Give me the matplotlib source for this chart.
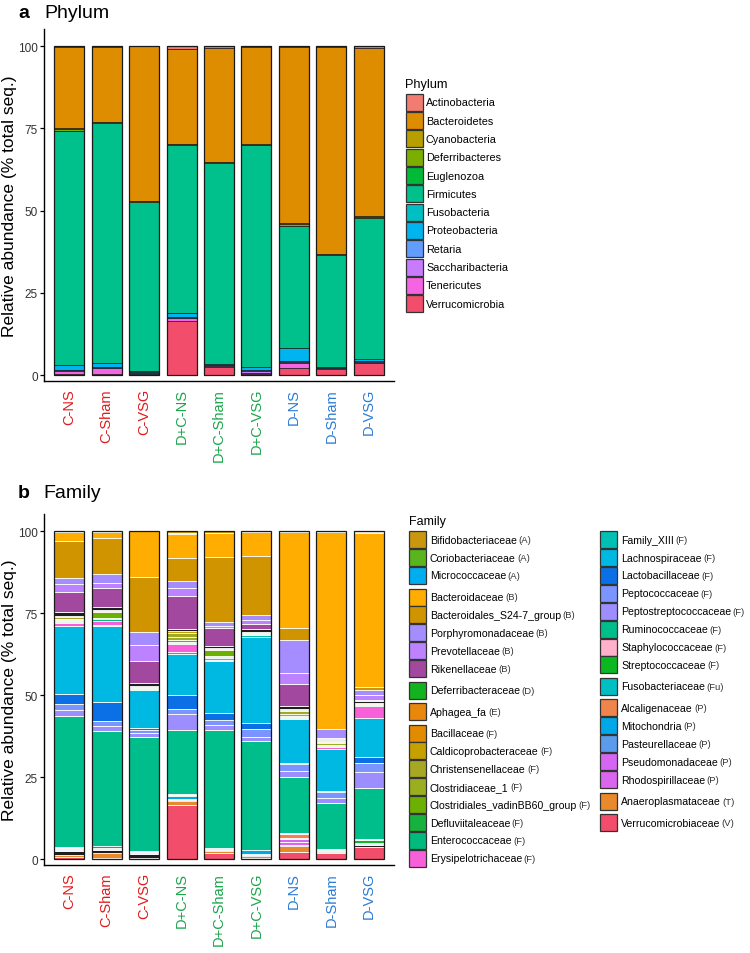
"""Stacked relative-abundance bars by phylum and family."""

import matplotlib

matplotlib.use("Agg")
import matplotlib.pyplot as plt
import numpy as np
from matplotlib.patches import Rectangle

plt.rcParams["font.family"] = ["Liberation Sans", "DejaVu Sans"]

samples = ["C-NS", "C-Sham", "C-VSG", "D+C-NS", "D+C-Sham", "D+C-VSG", "D-NS", "D-Sham", "D-VSG"]
sample_colors = ["#E31A1C"] * 3 + ["#1AA64B"] * 3 + ["#2B7BD6"] * 3

phyla = ["Actinobacteria", "Bacteroidetes", "Cyanobacteria", "Deferribacteres", "Euglenozoa",
         "Firmicutes", "Fusobacteria", "Proteobacteria", "Retaria", "Saccharibacteria",
         "Tenericutes", "Verrucomicrobia"]
phylum_colors = ["#F27B72", "#DE8C00", "#B79F00", "#7CAE00", "#00BA38", "#00C08B",
                 "#00BFC4", "#00B4F0", "#619CFF", "#C77CFF", "#F564E3", "#F24D6B"]

# one row per sample, columns follow `phyla`
phylum_pct = [
    [0.3, 24.7, 0.3, 0.6, 0.0, 71.0, 0.0, 1.5, 0.2, 0.2, 1.0, 0.2],
    [0.2, 22.8, 0.2, 0.3, 0.0, 72.9, 0.0, 1.2, 0.2, 0.2, 1.7, 0.3],
    [0.1, 47.0, 0.1, 0.1, 0.0, 51.5, 0.2, 0.5, 0.1, 0.1, 0.1, 0.2],
    [0.8, 28.9, 0.2, 0.2, 0.0, 50.9, 0.1, 1.2, 0.2, 0.3, 0.8, 16.4],
    [0.6, 34.6, 0.1, 0.1, 0.0, 61.1, 0.0, 0.3, 0.1, 0.3, 0.3, 2.5],
    [0.2, 29.7, 0.1, 0.1, 0.0, 67.3, 0.0, 1.2, 0.3, 0.4, 0.3, 0.4],
    [0.2, 53.6, 0.4, 0.4, 0.2, 37.0, 0.0, 4.0, 0.2, 0.2, 1.5, 2.3],
    [0.2, 63.0, 0.1, 0.1, 0.0, 34.0, 0.0, 0.3, 0.1, 0.2, 0.2, 1.8],
    [0.7, 51.0, 0.3, 0.2, 0.0, 42.9, 0.0, 0.7, 0.2, 0.2, 0.2, 3.6],
]

families = ["Bifidobacteriaceae", "Coriobacteriaceae", "Micrococcaceae", "Bacteroidaceae",
            "Bacteroidales_S24-7_group", "Porphyromonadaceae", "Prevotellaceae", "Rikenellaceae",
            "Deferribacteraceae", "Aphagea_fa", "Bacillaceae", "Caldicoprobacteraceae",
            "Christensenellaceae", "Clostridiaceae_1", "Clostridiales_vadinBB60_group",
            "Defluviitaleaceae", "Enterococcaceae", "Erysipelotrichaceae", "Family_XIII",
            "Lachnospiraceae", "Lactobacillaceae", "Peptococcaceae", "Peptostreptococcaceae",
            "Ruminococcaceae", "Staphylococcaceae", "Streptococcaceae", "Fusobacteriaceae",
            "Alcaligenaceae", "Mitochondria", "Pasteurellaceae", "Pseudomonadaceae",
            "Rhodospirillaceae", "Anaeroplasmataceae", "Verrucomicrobiaceae"]
family_groups = ["A", "A", "A", "B", "B", "B", "B", "B", "D", "E", "F", "F", "F", "F", "F",
                 "F", "F", "F", "F", "F", "F", "F", "F", "F", "F", "F", "Fu", "P", "P", "P",
                 "P", "P", "T", "V"]
family_colors = ["#C8970F", "#5BB31D", "#00AEEF", "#FFAD00", "#CF9400", "#A58CFF", "#BC82FF",
                 "#A2489F", "#12B31F", "#E8870C", "#E28B00", "#C4A000", "#A6A722", "#9AAE1F",
                 "#6CB001", "#17B13E", "#00BB7D", "#F860D9", "#00BFB5", "#00B9E3", "#0B6FE6",
                 "#7A95FF", "#9C8EFF", "#00BE8C", "#FFB0CB", "#0CB822", "#00BFC4", "#F0844D",
                 "#00A8E8", "#5A9CEB", "#D466F2", "#D966EC", "#E8892B", "#F24D6B"]

# unassigned reads show as dark bands; they sit after Rikenellaceae and after Rhodospirillaceae
stack_order = families[:8] + ["other_upper"] + families[8:32] + ["other_lower"] + families[32:]
stack_colors = family_colors[:8] + ["#1E1E1E"] + family_colors[8:32] + ["#1E1E1E"] + family_colors[32:]

# one row per sample, columns follow `stack_order`
family_pct = [
    [0.1, 0.1, 0.0, 2.7, 11.5, 1.7, 2.4, 6.3, 1.0, 0.3, 0.0, 0.0, 0.1, 0.6, 0.3, 0.3, 0.3, 0.3,
     0.8, 0.2, 20.6, 3.0, 2.0, 1.8, 40.0, 0.1, 0.1, 0.0, 0.1, 0.3, 0.2, 0.1, 0.1, 1.2, 0.9, 0.5],
    [0.1, 0.1, 0.0, 2.0, 10.8, 2.7, 1.6, 5.9, 1.0, 0.1, 0.0, 0.0, 0.0, 0.3, 0.2, 1.8, 0.1, 0.8,
     1.2, 0.2, 23.1, 5.9, 1.5, 1.5, 35.1, 0.1, 0.5, 0.0, 0.0, 0.2, 0.2, 0.1, 0.1, 0.8, 1.6, 0.4],
    [0.1, 0.0, 0.0, 14.0, 16.6, 3.9, 5.0, 6.8, 0.9, 0.1, 0.0, 0.0, 0.0, 0.1, 0.1, 0.1, 0.1, 0.2,
     0.1, 0.2, 11.8, 0.4, 1.2, 1.0, 34.9, 0.3, 0.1, 0.0, 0.0, 0.2, 0.1, 0.1, 0.1, 1.2, 0.1, 0.2],
    [0.8, 0.1, 0.0, 7.4, 6.9, 2.3, 2.4, 10.0, 0.7, 0.1, 0.0, 0.0, 0.6, 1.2, 0.9, 0.6, 0.2, 0.2,
     2.7, 0.6, 12.5, 4.1, 1.7, 4.6, 19.8, 0.3, 0.1, 0.0, 0.1, 0.8, 0.2, 0.1, 0.1, 0.4, 1.0, 16.6],
    [0.5, 0.1, 0.0, 7.3, 19.7, 1.2, 0.9, 5.4, 0.4, 0.1, 0.0, 0.0, 0.1, 0.3, 0.2, 2.0, 0.2, 0.4,
     0.5, 0.3, 15.9, 2.0, 1.5, 1.6, 36.0, 0.1, 0.1, 0.0, 0.0, 0.2, 0.1, 0.0, 0.1, 0.3, 0.5, 2.0],
    [0.2, 0.0, 0.0, 7.5, 17.8, 1.6, 1.1, 1.7, 1.0, 0.1, 0.0, 0.0, 0.0, 0.1, 0.1, 0.1, 0.1, 0.1,
     0.1, 0.7, 26.2, 1.9, 2.5, 1.2, 33.0, 0.1, 0.1, 0.0, 0.0, 1.1, 0.2, 0.0, 0.1, 0.4, 0.5, 0.4],
    [0.1, 0.1, 0.0, 29.4, 3.7, 10.0, 3.4, 6.5, 1.0, 0.2, 0.0, 0.0, 0.5, 0.8, 0.6, 0.3, 0.1, 0.2,
     0.4, 0.1, 13.2, 0.3, 2.3, 1.8, 17.1, 0.1, 0.1, 0.0, 1.2, 0.3, 0.2, 0.8, 0.8, 0.4, 1.8, 2.2],
    [0.1, 0.1, 0.0, 60.1, 0.1, 2.7, 0.1, 0.1, 0.5, 0.1, 0.0, 0.0, 0.3, 0.5, 0.5, 0.3, 0.1, 0.3,
     0.4, 0.1, 12.9, 0.2, 1.9, 1.5, 14.0, 0.1, 0.1, 0.0, 0.0, 0.2, 0.1, 0.0, 0.1, 0.4, 0.3, 1.8],
    [0.3, 0.0, 0.5, 46.7, 1.2, 1.5, 1.3, 0.3, 0.7, 0.1, 0.0, 0.0, 0.1, 0.1, 0.1, 0.1, 0.1, 0.4,
     3.5, 0.2, 11.7, 1.8, 2.8, 4.8, 15.6, 0.3, 1.0, 0.0, 0.0, 0.3, 0.2, 0.1, 0.1, 0.4, 0.2, 3.6],
]

W, H = 750, 954
fig = plt.figure(figsize=(W / 100, H / 100), dpi=100)


def px_axes(left, top, right, bottom):
    return fig.add_axes([left / W, 1 - bottom / H, (right - left) / W, (bottom - top) / H])


def draw_stack(ax, table, colors, edge, edge_width):
    table = np.asarray(table)
    x = np.arange(1, len(samples) + 1)
    bottom = np.zeros(len(samples))
    # first level ends up on top, as in ggplot's stacking
    for j in reversed(range(table.shape[1])):
        vals = table[:, j]
        keep = vals > 0
        ax.bar(x[keep], vals[keep], 0.8, bottom=bottom[keep], color=colors[j],
               edgecolor=edge, linewidth=edge_width)
        bottom += vals
    ax.bar(x, bottom, 0.8, fill=False, edgecolor="#1a1a1a", linewidth=0.9)


def style_axis(ax):
    ax.set_xlim(0.33, 9.67)
    ax.set_ylim(-1.8, 105.2)
    ax.set_yticks([0, 25, 50, 75, 100])
    ax.set_xticks(np.arange(1, len(samples) + 1))
    ax.set_xticklabels(samples, rotation=90, fontsize=10.5, va="top", ha="center")
    for label, color in zip(ax.get_xticklabels(), sample_colors):
        label.set_color(color)
    ax.tick_params(axis="x", length=0, pad=5)
    ax.tick_params(axis="y", length=3, width=0.9, labelsize=8.5, pad=1.5, labelcolor="#333333")
    for side in ("top", "right"):
        ax.spines[side].set_visible(False)
    for side in ("left", "bottom"):
        ax.spines[side].set_linewidth(1.0)
    ax.set_ylabel("Relative abundance (% total seq.)", fontsize=12.5, va="center")
    ax.yaxis.set_label_coords((10 - 44) / 350, 0.5)


ax_a = px_axes(44, 30, 394, 382)
draw_stack(ax_a, phylum_pct, phylum_colors, "#1a1a1a", 0.5)
style_axis(ax_a)

ax_b = px_axes(44, 515, 394, 866)
draw_stack(ax_b, family_pct, stack_colors, "white", 0.6)
style_axis(ax_b)

# overlay in pixel units for titles and legends
ov = fig.add_axes([0, 0, 1, 1])
ov.set_xlim(0, W)
ov.set_ylim(H, 0)
ov.axis("off")

ov.text(18, 14, "a", fontsize=14, fontweight="bold", va="center")
ov.text(44, 14, "Phylum", fontsize=14, va="center")
ov.text(18, 494, "b", fontsize=14, fontweight="bold", va="center")
ov.text(43, 494, "Family", fontsize=14, va="center")

key = 17
ov.text(405, 85, "Phylum", fontsize=9.2, va="center")
for i, (name, color) in enumerate(zip(phyla, phylum_colors)):
    yc = 103.3 + i * 18.3
    ov.add_patch(Rectangle((405.5, yc - key / 2), key, key, facecolor=color,
                           edgecolor="#333333", linewidth=0.9))
    ov.text(426, yc, name, fontsize=7.8, va="center")

renderer = fig.canvas.get_renderer()
ov.text(409, 522, "Family", fontsize=9, va="center")
columns = [(0, 18, 409), (18, len(families), 600)]
for start, stop, x0 in columns:
    yc = 540.7
    for i in range(start, stop):
        if i > start and family_groups[i] != family_groups[i - 1]:
            yc += 3.6
        ov.add_patch(Rectangle((x0, yc - key / 2), key, key, facecolor=family_colors[i],
                               edgecolor="#333333", linewidth=0.9))
        t = ov.text(x0 + 21, yc, families[i], fontsize=7.6, va="center")
        bb = t.get_window_extent(renderer)
        x_end = ov.transData.inverted().transform((bb.x1, bb.y0))[0]
        ov.text(x_end + 1.5, yc, f"({family_groups[i]})", fontsize=6.8, va="center",
                color="#333333")
        yc += 17.9

fig.savefig("out.png", dpi=100)
